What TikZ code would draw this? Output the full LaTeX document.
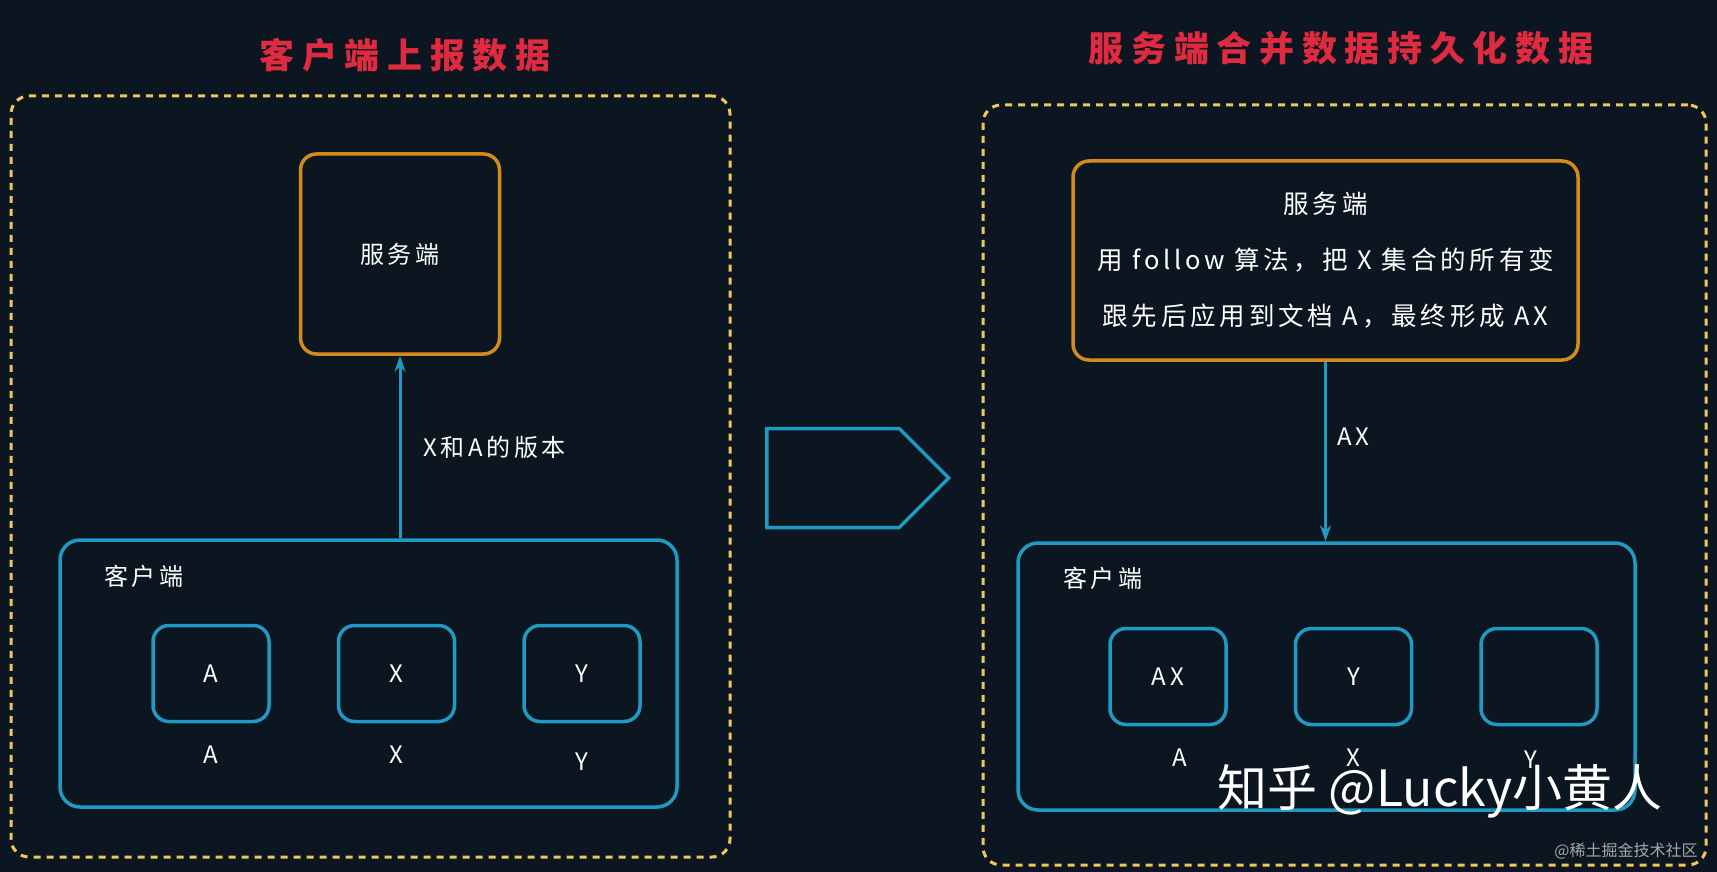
\documentclass[tikz,border=0pt]{standalone}
\usepackage{fontspec}
\setmainfont{Noto Sans CJK SC}
\newfontfamily\handfont[LetterSpace=15]{Noto Sans CJK SC}
\newfontfamily\titlefont[LetterSpace=22]{Noto Sans CJK SC}
\usetikzlibrary{positioning,arrows.meta,shapes.symbols}

\definecolor{bgdark}{HTML}{0C1620}
\definecolor{dashyellow}{HTML}{F2C55C}
\definecolor{boxorange}{HTML}{D48B1C}
\definecolor{boxblue}{HTML}{1F9AC2}
\definecolor{titlered}{HTML}{E02A40}

\begin{document}
\begin{tikzpicture}[x=1pt, y=-1pt, node distance=66pt and 66pt,
    every node/.style={text=white, inner sep=2pt, font=\handfont\fontsize{24}{28}\selectfont},
    title/.style={text=titlered, font=\titlefont\bfseries\fontsize{35}{40}\selectfont},
    frame/.style={draw=dashyellow, line width=3pt, dash pattern=on 7pt off 6pt, rounded corners=18pt},
    serverbox/.style={draw=boxorange, line width=3.5pt, rounded corners=16pt, rectangle},
    clientbox/.style={draw=boxblue, line width=3.5pt, rounded corners=20pt, rectangle},
    cellbox/.style={draw=boxblue, line width=3.5pt, rounded corners=16pt, rectangle, minimum width=116pt, minimum height=96pt},
    link/.style={draw=boxblue, line width=3pt, -{Stealth[length=16pt,width=11pt]}}]
        \fill[bgdark] (0,0) rectangle (1717,872);

        % left: client reports
        \node[title] (lefttitle) at (405,55) {客户端上报数据};
        \node[frame, minimum width=719pt, minimum height=761pt] (leftframe) at (370.5,476.5) {};
        \node[serverbox, minimum width=199pt, minimum height=200pt] (leftserver) at (400,254) {服务端};
        \node[clientbox, minimum width=617pt, minimum height=267pt] (leftclient) at (368.5,673.5) {};
        \node[anchor=west] (leftclientlabel) at (102,576) {客户端};

        \node[cellbox] (cellA) at (211,673.5) {A};
        \node[cellbox, right=of cellA] (cellX) {X};
        \node[cellbox, right=of cellX] (cellY) {Y};
        \node[below=20pt of cellA] (labelA) {A};
        \node[below=20pt of cellX] (labelX) {X};
        \node[below=27pt of cellY] (labelY) {Y};

        \draw[link] (leftclient.north -| leftserver.south) -- (leftserver.south) node[midway, right=20pt] {X和A的版本};

        % middle
        \node[signal, signal to=east, draw=boxblue, line width=3.5pt, minimum width=182pt, minimum height=99pt, anchor=west] (bigarrow) at (765,478) {};

        % right: server merges
        \node[title] (righttitle) at (1341,48) {服务端合并数据持久化数据};
        \node[frame, minimum width=723pt, minimum height=760pt] (rightframe) at (1344.5,485) {};
        \node[serverbox, minimum width=505pt, minimum height=199pt, align=center, font=\handfont\fontsize{25.5}{56}\selectfont] (rightserver) at (1325.5,260.5)
            {服务端\\用 follow 算法，把 X 集合的所有变\\跟先后应用到文档 A，最终形成 AX};
        \node[clientbox, minimum width=617pt, minimum height=267pt] (rightclient) at (1326.5,676.5) {};
        \node[anchor=west] (rightclientlabel) at (1061,578) {客户端};

        \node[cellbox] (cellAX) at (1168,676.5) {AX};
        \node[cellbox, right=of cellAX] (cellYb) {Y};
        \node[cellbox, right=of cellYb] (cellEmpty) {};
        \node[below=20pt of cellAX, xshift=12pt] (labelAb) {A};
        \node[below=20pt of cellYb] (labelXb) {X};
        \node[below=22pt of cellEmpty, xshift=-8pt] (labelYb) {Y};

        \draw[link] (rightserver.south) -- (rightserver.south |- rightclient.north) node[pos=0.42, right=8pt] {AX};

        % watermarks
        \node[font=\fontsize{50}{60}\selectfont] (zhihu) at (1440,791) {知乎 @Lucky小黄人};
        \node[text=gray!70, font=\fontsize{16}{20}\selectfont] (juejin) at (1626,851) {@稀土掘金技术社区};
    \end{tikzpicture}
\end{document}
